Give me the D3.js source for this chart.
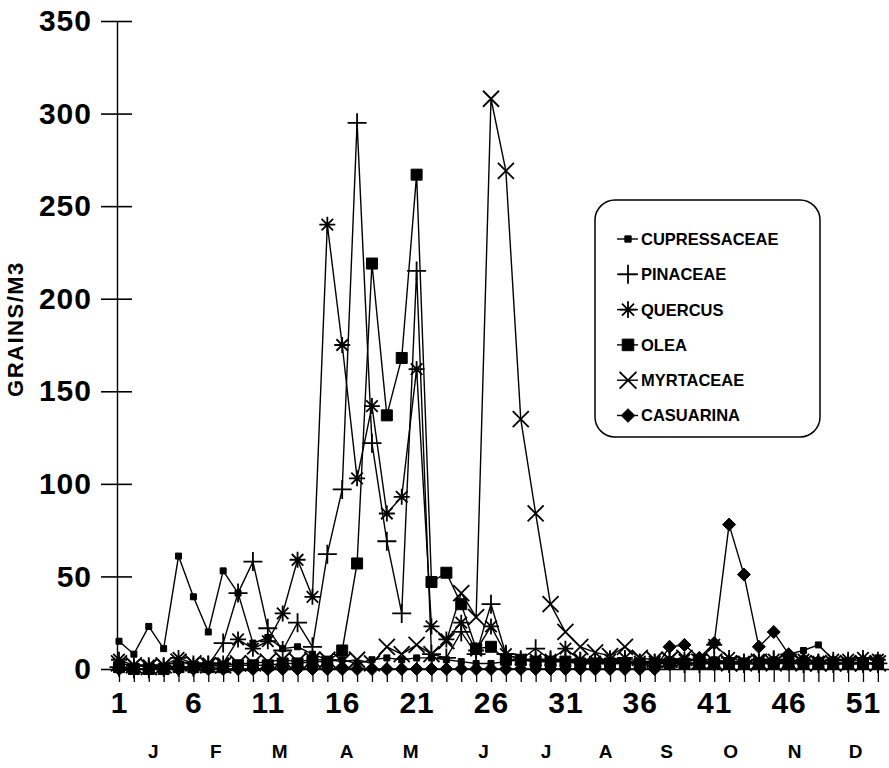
<!DOCTYPE html>
<html>
<head>
<meta charset="utf-8">
<script src="https://cdn.jsdelivr.net/npm/d3@7"></script>
<style>
  body { margin: 0; background: #fff; }
  svg { display: block; font-family: "Liberation Sans", Arial, sans-serif; }
  .axis text { font-weight: bold; fill: #000; }
</style>
</head>
<body>
<div class="chart"></div>
<script>
// weekly pollen counts, grains/m3
var weeks = d3.range(1, 53);

var cupressaceae = [15, 8, 23, 11, 61, 39, 20, 53, 41, 14, 17, 11, 12, 8, 5, 5, 3, 5, 6, 5, 6, 6, 5, 4, 3, 3, 4, 5, 4, 4, 4, 3, 3, 4, 3, 3, 4, 5, 4, 5, 5, 4, 4, 3, 5, 8, 10, 13, 5, 4, 5, 6];
var pinaceae = [1, 0, 0, 1, 1, 1, 2, 14, 41, 58, 22, 10, 25, 12, 62, 97, 295, 122, 69, 30, 215, 8, 6, 20, 8, 35, 8, 5, 11, 5, 5, 4, 3, 5, 4, 3, 3, 4, 3, 3, 4, 3, 3, 3, 5, 4, 3, 3, 3, 3, 3, 3];
var quercus = [5, 2, 2, 2, 6, 3, 3, 3, 16, 11, 15, 30, 59, 39, 240, 175, 103, 142, 84, 93, 162, 23, 16, 25, 10, 23, 8, 5, 5, 5, 11, 5, 4, 5, 6, 4, 4, 5, 5, 5, 13, 6, 4, 5, 5, 4, 5, 4, 5, 5, 6, 5];
var olea = [1, 0, 0, 0, 1, 1, 1, 1, 2, 2, 2, 3, 3, 4, 4, 10, 57, 219, 137, 168, 267, 47, 52, 35, 11, 12, 5, 5, 4, 4, 4, 3, 3, 3, 3, 3, 3, 3, 3, 3, 3, 3, 3, 3, 3, 3, 3, 3, 3, 3, 3, 3];
var myrtaceae = [3, 2, 1, 2, 4, 3, 2, 2, 3, 3, 4, 5, 4, 5, 5, 4, 5, 3, 12, 8, 13, 8, 15, 41, 28, 308, 269, 135, 84, 35, 20, 12, 9, 7, 12, 6, 5, 5, 6, 4, 4, 3, 3, 4, 3, 4, 3, 3, 3, 3, 3, 3];
var casuarina = [0, 0, 0, 0, 0, 0, 0, 0, 0, 0, 0, 0, 0, 0, 0, 0, 0, 0, 0, 0, 0, 0, 0, 0, 0, 0, 0, 0, 0, 0, 0, 0, 0, 0, 0, 0, 0, 12, 13, 6, 14, 78, 51, 12, 20, 8, 5, 4, 3, 3, 3, 3];

var seriesNames = ["CUPRESSACEAE", "PINACEAE", "QUERCUS", "OLEA", "MYRTACEAE", "CASUARINA"];
var seriesMarks = ["smallSquare", "plus", "asterisk", "square", "times", "diamond"];
var seriesValues = [cupressaceae, pinaceae, quercus, olea, myrtaceae, casuarina];

var yTicks = [0, 50, 100, 150, 200, 250, 300, 350];
var xTickLabels = [1, 6, 11, 16, 21, 26, 31, 36, 41, 46, 51];
var months = ["J", "F", "M", "A", "M", "J", "J", "A", "S", "O", "N", "D"];
var monthWeeks = [3.3, 7.5, 11.8, 16.3, 20.6, 25.5, 29.7, 33.7, 37.8, 42.1, 46.4, 50.5];

var svgWidth = 889;
var svgHeight = 768;

var svg = d3.select(".chart")
  .append("svg")
  .attr("width", svgWidth)
  .attr("height", svgHeight);

var x = d3.scaleLinear().domain([1, 53]).range([119, 119 + 52 * 14.88]);
var y = d3.scaleLinear().domain([0, 350]).range([669, 21]);

// marker shapes, drawn as path strings around 0,0
function markPath(type, s) {
  var h = s / 2;
  if (type == "smallSquare" || type == "square") {
    return "M" + (-h) + "," + (-h) + "h" + s + "v" + s + "h" + (-s) + "Z";
  }
  if (type == "plus") {
    return "M" + (-h) + ",0H" + h + "M0," + (-h) + "V" + h;
  }
  if (type == "times") {
    return "M" + (-h) + "," + (-h) + "L" + h + "," + h + "M" + (-h) + "," + h + "L" + h + "," + (-h);
  }
  if (type == "asterisk") {
    var d = h * 0.72;
    return "M" + (-h) + ",0H" + h + "M0," + (-h) + "V" + h +
      "M" + (-d) + "," + (-d) + "L" + d + "," + d + "M" + (-d) + "," + d + "L" + d + "," + (-d);
  }
  if (type == "diamond") {
    return "M0," + (-h) + "L" + h + ",0L0," + h + "L" + (-h) + ",0Z";
  }
}
var markSize = { smallSquare: 6, plus: 19, asterisk: 16, square: 11, times: 16, diamond: 13 };
var filled = { smallSquare: true, square: true, diamond: true };

// axes
var yAxis = svg.append("g")
  .attr("class", "axis")
  .attr("transform", "translate(117,0)")
  .call(d3.axisLeft(y).tickValues(yTicks).tickSize(16).tickSizeOuter(0).tickPadding(9));
yAxis.selectAll(".tick line").attr("x1", 15).attr("stroke-width", 1.6);
yAxis.select(".domain").attr("stroke-width", 1.4);
yAxis.selectAll(".tick text").style("font-size", "30px").style("letter-spacing", "1px");

var xAxis = svg.append("g")
  .attr("class", "axis")
  .attr("transform", "translate(0,669)")
  .call(d3.axisBottom(x).tickValues(weeks).tickSize(13).tickSizeOuter(0).tickPadding(10)
    .tickFormat(function(d) { return xTickLabels.indexOf(d) >= 0 ? d : ""; }));
xAxis.selectAll(".tick line").attr("y1", -8).attr("stroke-width", 1.3);
xAxis.select(".domain").attr("stroke-width", 1.6);
xAxis.selectAll(".tick text").style("font-size", "30px").style("letter-spacing", "1px");

svg.selectAll(".month")
  .data(months)
  .enter().append("text")
  .attr("class", "month")
  .attr("x", function(d, i) { return x(monthWeeks[i]); })
  .attr("y", 758)
  .attr("text-anchor", "middle")
  .style("font-size", "19px")
  .style("font-weight", "bold")
  .text(function(d) { return d; });

svg.append("text")
  .attr("transform", "translate(23,329) rotate(-90)")
  .attr("text-anchor", "middle")
  .style("font-size", "22px")
  .style("font-weight", "bold")
  .style("letter-spacing", "1.5px")
  .text("GRAINS/M3");

// series lines and markers
var line = d3.line()
  .x(function(d, i) { return x(weeks[i]); })
  .y(function(d) { return y(d); });

seriesValues.forEach(function(vals, k) {
  var type = seriesMarks[k];
  var g = svg.append("g").attr("class", "series");
  g.append("path")
    .attr("d", line(vals))
    .attr("fill", "none")
    .attr("stroke", "#000")
    .attr("stroke-width", 1.4);
  g.selectAll("path.mark")
    .data(vals)
    .enter().append("path")
    .attr("class", "mark")
    .attr("transform", function(d, i) { return "translate(" + x(weeks[i]) + "," + y(d) + ")"; })
    .attr("d", markPath(type, markSize[type]))
    .attr("fill", filled[type] ? "#000" : "none")
    .attr("stroke", "#000")
    .attr("stroke-width", filled[type] ? 1 : 1.8);
});

// legend
var legend = svg.append("g").attr("transform", "translate(595,200)");
legend.append("rect")
  .attr("width", 225)
  .attr("height", 237)
  .attr("rx", 20)
  .attr("fill", "#fff")
  .attr("stroke", "#000")
  .attr("stroke-width", 1.5);

var items = legend.selectAll(".item")
  .data(seriesNames)
  .enter().append("g")
  .attr("class", "item")
  .attr("transform", function(d, i) { return "translate(0," + (39 + i * 35.3) + ")"; });
items.append("line")
  .attr("x1", 22).attr("x2", 43)
  .attr("stroke", "#000").attr("stroke-width", 1.4);
items.append("path")
  .attr("transform", "translate(33,0)")
  .attr("d", function(d, i) { var t = seriesMarks[i]; return markPath(t, t == "plus" ? 19 : markSize[t] * 1.05); })
  .attr("fill", function(d, i) { return filled[seriesMarks[i]] ? "#000" : "none"; })
  .attr("stroke", "#000")
  .attr("stroke-width", function(d, i) { return filled[seriesMarks[i]] ? 1 : 1.8; });
items.append("text")
  .attr("x", 46)
  .attr("dy", "0.36em")
  .style("font-size", "16.5px")
  .style("font-weight", "bold")
  .text(function(d) { return d; });
</script>
</body>
</html>
